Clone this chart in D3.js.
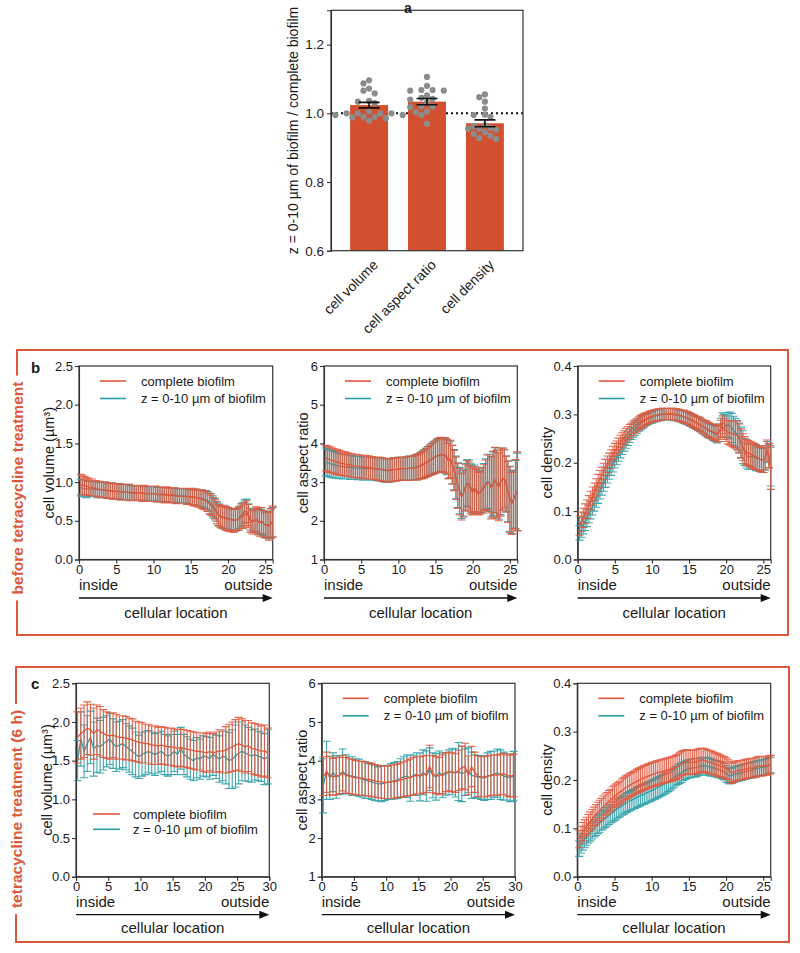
<!DOCTYPE html>
<html><head><meta charset="utf-8">
<script src="https://cdn.jsdelivr.net/npm/d3@7"></script>
<style>
body{margin:0;background:#fff}
svg{display:block}
text{font-family:"Liberation Sans",Arial,sans-serif;fill:#1a1a1a}
</style>
</head><body>
<svg id="chart" width="800" height="953"></svg>
<script>
// ---------------- DATA ----------------
// panel a
const barCategories = ["cell volume", "cell aspect ratio", "cell density"];
const barMeans = [1.024, 1.034, 0.971];
const barSem = [0.008, 0.009, 0.010];
const dotsVolume = [1.096,1.087,1.072,1.066,1.058,1.034,1.036,1.030,1.005,1.000,1.000,0.995,1.000,1.000,0.995,0.986,0.990,0.988,0.990,0.979];
const dotsAspect = [1.106,1.080,1.068,1.066,1.068,1.066,1.052,1.045,1.040,1.042,1.032,1.020,1.018,1.020,1.005,1.003,0.995,0.970];
const dotsDensity = [1.055,1.047,1.034,1.014,0.996,0.995,0.990,0.965,0.963,0.958,0.955,0.955,0.952,0.945,0.940,0.935,0.928,0.925];
const yTicksA = [0.6, 0.8, 1.0, 1.2];

// line panels: tick labels
const xTicks26 = [0,5,10,15,20,25];
const xTicks30 = [0,5,10,15,20,25,30];
const yTicksVol = [0,0.5,1.0,1.5,2.0,2.5];
const yTicksAr = [1,2,3,4,5,6];
const yTicksDen = [0,0.1,0.2,0.3,0.4];
const seriesNames = ["complete biofilm", "z = 0-10 µm of biofilm"];
const stepFine = 0.25, stepCoarse = 0.5;

// b: before tetracycline treatment (x = 0.25 ... 26)
const bVolR = [0.97,0.96,0.95,0.95, 0.94,0.93,0.93,0.92, 0.92,0.91,0.91,0.90, 0.90,0.90,0.89,0.89, 0.89,0.88,0.88,0.88, 0.88,0.87,0.87,0.87, 0.87,0.87,0.86,0.86, 0.86,0.86,0.86,0.86, 0.86,0.85,0.86,0.85, 0.85,0.85,0.85,0.85, 0.85,0.84,0.84,0.84, 0.84,0.83,0.84,0.83, 0.83,0.83,0.83,0.82, 0.82,0.82,0.82,0.82, 0.82,0.81,0.81,0.81, 0.81,0.80,0.80,0.79, 0.79,0.78,0.77,0.76, 0.74,0.72,0.70,0.67, 0.64,0.60,0.57,0.55, 0.54,0.55,0.53,0.52, 0.51,0.52,0.50,0.51, 0.52,0.53,0.55,0.56, 0.58,0.60,0.56,0.50, 0.48,0.50,0.52,0.49, 0.47,0.50,0.46,0.44, 0.45,0.43,0.47,0.49];
const bVolRe = [0.13,0.12,0.12,0.11, 0.11,0.11,0.11,0.10, 0.10,0.10,0.10,0.10, 0.10,0.10,0.10,0.10, 0.10,0.10,0.10,0.10, 0.10,0.10,0.10,0.10, 0.10,0.10,0.10,0.10, 0.10,0.10,0.10,0.10, 0.10,0.10,0.10,0.10, 0.10,0.10,0.10,0.10, 0.10,0.10,0.10,0.10, 0.10,0.10,0.10,0.10, 0.10,0.10,0.10,0.10, 0.10,0.10,0.10,0.10, 0.10,0.10,0.10,0.10, 0.11,0.11,0.11,0.11, 0.11,0.12,0.12,0.12, 0.12,0.13,0.13,0.13, 0.13,0.14,0.14,0.14, 0.14,0.15,0.15,0.15, 0.15,0.14,0.15,0.14, 0.14,0.15,0.15,0.16, 0.16,0.16,0.15,0.15, 0.15,0.15,0.16,0.17, 0.17,0.17,0.17,0.16, 0.17,0.18,0.19,0.20];
const bVolT = [0.93,0.92,0.92,0.91, 0.91,0.91,0.91,0.91, 0.91,0.90,0.90,0.90, 0.90,0.90,0.89,0.89, 0.89,0.89,0.88,0.88, 0.88,0.88,0.87,0.87, 0.87,0.87,0.87,0.86, 0.86,0.86,0.86,0.86, 0.86,0.86,0.85,0.85, 0.85,0.85,0.85,0.85, 0.85,0.84,0.84,0.84, 0.84,0.84,0.84,0.83, 0.83,0.83,0.83,0.83, 0.82,0.82,0.82,0.82, 0.82,0.82,0.81,0.81, 0.81,0.81,0.80,0.80, 0.79,0.79,0.78,0.77, 0.76,0.74,0.72,0.69, 0.66,0.62,0.58,0.56, 0.55,0.54,0.53,0.53, 0.52,0.52,0.51,0.51, 0.52,0.54,0.57,0.59, 0.62,0.63,0.58,0.52, 0.49,0.50,0.51,0.50, 0.48,0.49,0.47,0.45, 0.45,0.44,0.46,0.48];
const bVolTe = [0.11,0.11,0.11,0.11, 0.10,0.10,0.10,0.10, 0.10,0.10,0.10,0.10, 0.10,0.10,0.10,0.10, 0.10,0.10,0.10,0.10, 0.10,0.10,0.10,0.10, 0.10,0.10,0.10,0.09, 0.09,0.09,0.09,0.09, 0.09,0.09,0.09,0.09, 0.09,0.09,0.09,0.09, 0.09,0.09,0.09,0.09, 0.09,0.09,0.09,0.09, 0.09,0.09,0.09,0.09, 0.09,0.09,0.09,0.09, 0.09,0.09,0.09,0.10, 0.10,0.10,0.10,0.10, 0.11,0.11,0.11,0.12, 0.12,0.12,0.13,0.13, 0.13,0.13,0.14,0.14, 0.14,0.15,0.15,0.14, 0.14,0.14,0.14,0.14, 0.14,0.14,0.15,0.15, 0.15,0.15,0.14,0.14, 0.14,0.14,0.15,0.16, 0.16,0.16,0.16,0.16, 0.17,0.17,0.18,0.19];

const bArR = [3.62,3.60,3.58,3.57, 3.55,3.53,3.52,3.50, 3.49,3.48,3.47,3.46, 3.45,3.44,3.43,3.42, 3.42,3.41,3.40,3.40, 3.39,3.39,3.38,3.38, 3.37,3.37,3.36,3.35, 3.35,3.34,3.33,3.32, 3.31,3.30,3.30,3.31, 3.32,3.33,3.33,3.34, 3.34,3.35,3.35,3.35, 3.35,3.36,3.36,3.36, 3.37,3.38,3.40,3.42, 3.44,3.47,3.50,3.53, 3.56,3.59,3.62,3.65, 3.68,3.70,3.72,3.71, 3.70,3.66,3.55,3.60, 3.45,3.30,3.10,2.90, 2.75,2.62,2.70,2.85, 2.95,2.90,2.80,2.75, 2.80,2.75,2.70,2.72, 2.78,2.85,2.92,3.00, 2.95,2.85,2.95,3.05, 2.95,2.88,3.00,3.08, 3.10,2.95,2.75,2.55, 2.45,2.55,2.68,2.76];
const bArRe = [0.33,0.33,0.33,0.33, 0.32,0.32,0.32,0.32, 0.31,0.31,0.31,0.31, 0.30,0.30,0.30,0.30, 0.30,0.30,0.30,0.30, 0.30,0.30,0.30,0.30, 0.29,0.29,0.29,0.29, 0.30,0.30,0.30,0.30, 0.30,0.30,0.30,0.30, 0.30,0.30,0.30,0.30, 0.30,0.30,0.30,0.30, 0.31,0.31,0.31,0.31, 0.32,0.33,0.33,0.34, 0.35,0.36,0.37,0.38, 0.39,0.40,0.41,0.42, 0.43,0.44,0.44,0.44, 0.45,0.45,0.46,0.48, 0.50,0.52,0.55,0.58, 0.60,0.60,0.60,0.60, 0.60,0.62,0.62,0.60, 0.60,0.58,0.55,0.55, 0.58,0.60,0.65,0.70, 0.75,0.80,0.85,0.85, 0.88,0.88,0.88,0.80, 0.75,0.72,0.80,0.85, 0.80,0.75,0.90,1.02];
const bArT = [3.52,3.50,3.48,3.47, 3.45,3.44,3.43,3.42, 3.41,3.40,3.40,3.39, 3.39,3.38,3.38,3.37, 3.37,3.36,3.36,3.36, 3.35,3.35,3.35,3.35, 3.35,3.34,3.34,3.33, 3.33,3.33,3.32,3.31, 3.30,3.30,3.30,3.31, 3.32,3.33,3.33,3.34, 3.34,3.35,3.35,3.35, 3.35,3.36,3.36,3.37, 3.38,3.39,3.41,3.43, 3.45,3.48,3.51,3.54, 3.57,3.60,3.63,3.66, 3.68,3.70,3.71,3.70, 3.68,3.64,3.55,3.58, 3.45,3.32,3.12,2.92, 2.78,2.66,2.72,2.88, 2.98,2.95,2.85,2.80, 2.84,2.78,2.74,2.75, 2.80,2.88,2.95,3.02, 2.98,2.88,2.96,3.05, 2.96,2.90,3.02,3.08, 3.08,2.95,2.76,2.57, 2.47,2.56,2.68,2.75];
const bArTe = [0.36,0.36,0.35,0.35, 0.34,0.34,0.33,0.33, 0.32,0.32,0.32,0.31, 0.31,0.31,0.31,0.30, 0.30,0.30,0.30,0.30, 0.30,0.30,0.30,0.30, 0.29,0.29,0.29,0.29, 0.30,0.30,0.30,0.30, 0.30,0.30,0.30,0.30, 0.30,0.30,0.30,0.30, 0.30,0.30,0.30,0.30, 0.31,0.31,0.31,0.31, 0.32,0.33,0.33,0.34, 0.35,0.36,0.37,0.38, 0.39,0.40,0.41,0.42, 0.43,0.44,0.44,0.44, 0.45,0.45,0.46,0.48, 0.50,0.52,0.55,0.58, 0.60,0.60,0.60,0.60, 0.60,0.62,0.62,0.60, 0.60,0.58,0.55,0.55, 0.58,0.60,0.65,0.70, 0.74,0.78,0.82,0.84, 0.86,0.86,0.86,0.80, 0.75,0.72,0.78,0.84, 0.80,0.75,0.88,1.00];

const bDenR = [0.070,0.078,0.086,0.095, 0.104,0.113,0.122,0.131, 0.140,0.149,0.158,0.166, 0.174,0.182,0.190,0.197, 0.204,0.211,0.218,0.224, 0.230,0.236,0.242,0.247, 0.252,0.257,0.261,0.265, 0.269,0.273,0.276,0.279, 0.282,0.285,0.287,0.289, 0.291,0.293,0.295,0.296, 0.297,0.298,0.299,0.300, 0.300,0.301,0.301,0.301, 0.301,0.301,0.301,0.300, 0.300,0.299,0.298,0.297, 0.296,0.294,0.293,0.291, 0.289,0.287,0.285,0.283, 0.281,0.279,0.276,0.274, 0.272,0.269,0.267,0.265, 0.264,0.262,0.260,0.262, 0.268,0.275,0.270,0.266, 0.263,0.262,0.260,0.259, 0.258,0.256,0.250,0.240, 0.232,0.226,0.222,0.220, 0.218,0.216,0.214,0.212, 0.210,0.208,0.206,0.205, 0.210,0.225,0.215,0.190];
const bDenRe = [0.020,0.020,0.020,0.020, 0.019,0.019,0.019,0.019, 0.018,0.018,0.018,0.018, 0.017,0.017,0.017,0.017, 0.016,0.016,0.016,0.016, 0.015,0.015,0.015,0.015, 0.014,0.014,0.014,0.014, 0.013,0.013,0.013,0.013, 0.013,0.013,0.013,0.013, 0.012,0.012,0.012,0.012, 0.012,0.012,0.012,0.012, 0.012,0.012,0.012,0.012, 0.012,0.012,0.012,0.012, 0.012,0.012,0.012,0.012, 0.013,0.013,0.013,0.013, 0.013,0.013,0.013,0.013, 0.014,0.014,0.014,0.014, 0.015,0.015,0.015,0.015, 0.016,0.016,0.017,0.018, 0.020,0.022,0.022,0.022, 0.024,0.025,0.026,0.027, 0.028,0.030,0.030,0.030, 0.028,0.028,0.026,0.026, 0.026,0.026,0.026,0.026, 0.025,0.025,0.025,0.025, 0.025,0.022,0.025,0.045];
const bDenT = [0.055,0.062,0.070,0.078, 0.086,0.094,0.102,0.110, 0.118,0.126,0.134,0.142, 0.150,0.158,0.166,0.174, 0.182,0.190,0.197,0.204, 0.211,0.218,0.225,0.232, 0.238,0.244,0.250,0.256, 0.261,0.266,0.270,0.274, 0.278,0.281,0.284,0.287, 0.289,0.291,0.293,0.294, 0.296,0.297,0.298,0.299, 0.299,0.300,0.300,0.300, 0.300,0.300,0.300,0.299, 0.299,0.298,0.297,0.296, 0.295,0.293,0.292,0.290, 0.288,0.286,0.284,0.282, 0.280,0.278,0.275,0.273, 0.271,0.268,0.266,0.264, 0.262,0.260,0.258,0.262, 0.272,0.285,0.280,0.275, 0.278,0.277,0.272,0.266, 0.262,0.258,0.252,0.242, 0.232,0.222,0.215,0.212, 0.212,0.212,0.212,0.210, 0.208,0.207,0.206,0.205, 0.210,0.222,0.214,0.192];
const bDenTe = [0.015,0.016,0.017,0.018, 0.018,0.018,0.018,0.018, 0.018,0.018,0.018,0.017, 0.017,0.017,0.017,0.016, 0.016,0.016,0.016,0.015, 0.015,0.015,0.015,0.015, 0.014,0.014,0.014,0.014, 0.013,0.013,0.013,0.013, 0.013,0.013,0.013,0.013, 0.012,0.012,0.012,0.012, 0.012,0.012,0.012,0.012, 0.012,0.012,0.012,0.012, 0.012,0.012,0.012,0.012, 0.012,0.012,0.012,0.012, 0.013,0.013,0.013,0.013, 0.013,0.013,0.013,0.013, 0.014,0.014,0.014,0.014, 0.015,0.015,0.015,0.015, 0.016,0.016,0.017,0.018, 0.020,0.018,0.020,0.022, 0.026,0.028,0.030,0.030, 0.030,0.030,0.030,0.032, 0.034,0.028,0.026,0.026, 0.026,0.026,0.026,0.026, 0.025,0.025,0.025,0.025, 0.025,0.022,0.025,0.040];

// c: tetracycline treatment 6 h (volume & aspect: x = 0.25 ... 29.75; density: x = 0.25 ... 26)
const cVolR = [1.80,1.85,1.88,1.92,1.90,1.85,1.90,1.88, 1.85,1.83,1.82,1.83,1.81,1.80,1.80,1.79, 1.78,1.77,1.75,1.74,1.73,1.72,1.72,1.70, 1.70,1.69,1.70,1.69,1.68,1.68,1.67,1.66, 1.67,1.66,1.65,1.64,1.63,1.62,1.62,1.61, 1.60,1.62,1.60,1.61,1.63,1.62,1.64,1.66, 1.68,1.70,1.72,1.70,1.68,1.69,1.66,1.65, 1.64,1.62,1.63,1.60];
const cVolRe = [0.33,0.33,0.34,0.34,0.33,0.33,0.32,0.32, 0.31,0.30,0.30,0.29,0.29,0.28,0.28,0.28, 0.27,0.27,0.26,0.26,0.26,0.25,0.25,0.25, 0.25,0.24,0.24,0.24,0.24,0.24,0.24,0.24, 0.24,0.24,0.24,0.24,0.24,0.24,0.24,0.25, 0.25,0.25,0.25,0.26,0.27,0.28,0.30,0.31, 0.32,0.33,0.34,0.34,0.34,0.33,0.33,0.33, 0.33,0.33,0.33,0.32];
const cVolT = [1.50,1.78,1.62,1.72,1.80,1.65,1.70,1.68, 1.72,1.75,1.78,1.72,1.68,1.70,1.72,1.68, 1.65,1.62,1.58,1.55,1.58,1.60,1.62,1.60, 1.58,1.60,1.62,1.58,1.56,1.58,1.62,1.58, 1.66,1.58,1.55,1.52,1.50,1.54,1.52,1.56, 1.55,1.53,1.58,1.55,1.52,1.56,1.54,1.50, 1.52,1.56,1.60,1.62,1.60,1.58,1.56,1.58, 1.56,1.55,1.52,1.55];
const cVolTe = [0.26,0.35,0.34,0.36,0.34,0.35,0.35,0.34, 0.34,0.33,0.33,0.32,0.32,0.31,0.31,0.30, 0.30,0.30,0.29,0.28,0.28,0.28,0.27,0.27, 0.27,0.26,0.26,0.26,0.26,0.26,0.26,0.26, 0.27,0.26,0.26,0.26,0.26,0.26,0.26,0.26, 0.26,0.27,0.27,0.28,0.30,0.32,0.34,0.36, 0.38,0.40,0.40,0.38,0.36,0.35,0.34,0.33, 0.32,0.32,0.33,0.35];

const cArR = [3.60,3.70,3.62,3.58,3.60,3.62,3.68,3.62, 3.60,3.58,3.56,3.55,3.55,3.53,3.52,3.50, 3.48,3.46,3.45,3.44,3.44,3.45,3.46,3.48, 3.50,3.52,3.55,3.57,3.60,3.62,3.62,3.64, 3.66,3.85,3.65,3.62,3.60,3.65,3.70,3.72, 3.70,3.68,3.75,3.82,3.85,3.62,3.85,3.70, 3.60,3.58,3.58,3.60,3.62,3.63,3.62,3.65, 3.66,3.62,3.60,3.62];
const cArRe = [0.50,0.52,0.50,0.48,0.48,0.47,0.46,0.46, 0.45,0.45,0.44,0.44,0.44,0.43,0.43,0.43, 0.42,0.42,0.42,0.42,0.42,0.43,0.43,0.43, 0.44,0.45,0.46,0.47,0.48,0.48,0.48,0.48, 0.48,0.55,0.48,0.48,0.48,0.50,0.50,0.50, 0.50,0.50,0.52,0.55,0.60,0.50,0.52,0.52, 0.52,0.52,0.52,0.52,0.52,0.52,0.52,0.52, 0.53,0.53,0.54,0.55];
const cArT = [3.35,3.75,3.55,3.70,3.58,3.62,3.72,3.65, 3.62,3.60,3.58,3.56,3.52,3.50,3.48,3.45, 3.42,3.40,3.40,3.42,3.44,3.46,3.48,3.50, 3.55,3.58,3.60,3.55,3.62,3.65,3.58,3.70, 3.60,3.78,3.62,3.58,3.70,3.62,3.66,3.70, 3.72,3.68,3.72,3.66,3.70,3.75,3.62,3.60, 3.58,3.56,3.55,3.60,3.62,3.65,3.68,3.64, 3.60,3.58,3.56,3.60];
const cArTe = [0.70,0.75,0.55,0.50,0.55,0.50,0.58,0.50, 0.48,0.50,0.47,0.48,0.46,0.48,0.45,0.45, 0.45,0.44,0.46,0.45,0.44,0.46,0.47,0.48, 0.50,0.52,0.55,0.60,0.52,0.55,0.62,0.58, 0.65,0.55,0.58,0.60,0.55,0.58,0.55,0.58, 0.60,0.62,0.75,0.72,0.60,0.58,0.60,0.55, 0.55,0.56,0.58,0.60,0.62,0.60,0.62,0.64, 0.62,0.60,0.62,0.64];

const cDenR = [0.078,0.086,0.093,0.099, 0.104,0.109,0.114,0.119, 0.124,0.128,0.133,0.137, 0.141,0.145,0.149,0.152, 0.156,0.159,0.163,0.166, 0.169,0.172,0.175,0.178, 0.181,0.184,0.186,0.189, 0.191,0.193,0.195,0.197, 0.199,0.201,0.203,0.205, 0.206,0.208,0.209,0.211, 0.212,0.213,0.215,0.216, 0.217,0.218,0.219,0.220, 0.221,0.222,0.223,0.224, 0.226,0.228,0.231,0.234, 0.236,0.237,0.238,0.237, 0.236,0.236,0.237,0.238, 0.239,0.240,0.242,0.241, 0.240,0.238,0.237,0.236, 0.235,0.233,0.232,0.230, 0.229,0.227,0.226,0.224, 0.222,0.218,0.214,0.216, 0.218,0.219,0.220,0.220, 0.221,0.222,0.223,0.224, 0.225,0.224,0.225,0.226, 0.228,0.229,0.228,0.229, 0.230,0.229,0.231,0.232];
const cDenRe = [0.018,0.018,0.019,0.019, 0.019,0.020,0.020,0.020, 0.020,0.021,0.021,0.021, 0.021,0.022,0.022,0.022, 0.022,0.022,0.023,0.023, 0.023,0.023,0.023,0.024, 0.024,0.024,0.024,0.024, 0.024,0.024,0.024,0.025, 0.025,0.025,0.025,0.025, 0.025,0.025,0.025,0.025, 0.025,0.025,0.025,0.025, 0.025,0.025,0.025,0.025, 0.025,0.025,0.025,0.025, 0.025,0.025,0.025,0.025, 0.025,0.025,0.025,0.025, 0.025,0.025,0.025,0.025, 0.025,0.025,0.024,0.024, 0.024,0.024,0.024,0.024, 0.023,0.023,0.023,0.023, 0.022,0.022,0.022,0.022, 0.021,0.021,0.021,0.020, 0.020,0.020,0.020,0.020, 0.020,0.020,0.020,0.020, 0.020,0.020,0.020,0.020, 0.020,0.020,0.020,0.020, 0.019,0.019,0.019,0.019];
const cDenT = [0.058,0.066,0.072,0.078, 0.083,0.088,0.092,0.096, 0.100,0.104,0.108,0.111, 0.115,0.118,0.121,0.124, 0.127,0.130,0.133,0.136, 0.139,0.142,0.144,0.147, 0.149,0.152,0.154,0.156, 0.158,0.160,0.162,0.164, 0.166,0.168,0.170,0.171, 0.173,0.175,0.176,0.178, 0.180,0.182,0.184,0.186, 0.188,0.190,0.192,0.194, 0.196,0.199,0.202,0.205, 0.208,0.211,0.213,0.215, 0.218,0.220,0.222,0.223, 0.224,0.225,0.225,0.226, 0.227,0.228,0.229,0.229, 0.229,0.228,0.227,0.226, 0.225,0.224,0.223,0.222, 0.221,0.219,0.217,0.213, 0.210,0.208,0.209,0.211, 0.212,0.213,0.214,0.215, 0.216,0.217,0.218,0.219, 0.220,0.221,0.222,0.223, 0.224,0.225,0.226,0.226, 0.227,0.228,0.230,0.231];
const cDenTe = [0.016,0.017,0.017,0.018, 0.018,0.018,0.018,0.018, 0.018,0.019,0.019,0.019, 0.019,0.019,0.019,0.019, 0.019,0.019,0.020,0.020, 0.020,0.020,0.020,0.020, 0.020,0.020,0.020,0.020, 0.020,0.020,0.021,0.021, 0.021,0.021,0.021,0.021, 0.021,0.021,0.021,0.021, 0.021,0.021,0.021,0.021, 0.021,0.021,0.021,0.021, 0.020,0.020,0.020,0.020, 0.020,0.020,0.020,0.020, 0.019,0.019,0.019,0.019, 0.019,0.019,0.019,0.019, 0.018,0.018,0.018,0.018, 0.018,0.018,0.018,0.018, 0.017,0.017,0.017,0.017, 0.017,0.017,0.017,0.017, 0.016,0.016,0.016,0.016, 0.016,0.016,0.016,0.016, 0.016,0.016,0.016,0.016, 0.016,0.016,0.016,0.016, 0.016,0.016,0.016,0.016, 0.016,0.016,0.016,0.016];

// ---------------- STYLE ----------------
const RED = "#e2553b", TEAL = "#2a9ea6", BAR = "#d24f2f", FRAME = "#dc583c", DOT = "#8c8c8c", AX = "#333";
const FONT = '"Liberation Sans", Arial, sans-serif';
const svg = d3.select("#chart");

function styleAxis(g, fs) {
  g.attr("font-size", fs).attr("font-family", FONT);
  g.selectAll("path,line").attr("stroke", AX).attr("stroke-width", 1.1);
  g.selectAll("text").attr("fill", "#1a1a1a");
}

// ---------------- PANEL A ----------------
(function () {
  const L = 331, R = 523, T = 10.3, B = 250.7;
  const x = d3.scaleBand().domain(barCategories).range([L, R]).paddingInner(0.345).paddingOuter(0.33);
  const y = d3.scaleLinear().domain([0.6, 1.3]).range([B, T]);
  const g = svg.append("g");
  g.append("line").attr("x1", L).attr("x2", R).attr("y1", y(1.0)).attr("y2", y(1.0))
    .attr("stroke", "#111").attr("stroke-width", 2).attr("stroke-dasharray", "2,3");
  g.selectAll("rect.bar").data(barCategories).enter().append("rect")
    .attr("x", d => x(d)).attr("width", x.bandwidth())
    .attr("y", (d, i) => y(barMeans[i])).attr("height", (d, i) => y(0.6) - y(barMeans[i]))
    .attr("fill", BAR);
  const dotSets = [dotsVolume, dotsAspect, dotsDensity];
  const r = 3.1, dstep = 5.6;
  dotSets.forEach((vals, ci) => {
    const cx = x(barCategories[ci]) + x.bandwidth() / 2;
    const placed = [];
    vals.map(v => ({ v, py: y(v) })).sort((a, b) => a.py - b.py).forEach(p => {
      for (let k = 0; k < 15; k++) {
        const off = (k % 2 ? -1 : 1) * Math.ceil(k / 2) * dstep;
        const px = cx + off;
        const hit = placed.some(q => (q.px - px) ** 2 + (q.py - p.py) ** 2 < (2 * r) ** 2 * 0.9);
        if (!hit) { placed.push({ px, py: p.py }); break; }
      }
    });
    g.selectAll(null).data(placed).enter().append("circle")
      .attr("cx", d => d.px).attr("cy", d => d.py).attr("r", r).attr("fill", DOT);
  });
  barCategories.forEach((c, i) => {
    const cx = x(c) + x.bandwidth() / 2, hw = 10.5;
    const y1 = y(barMeans[i] + barSem[i]), y0 = y(barMeans[i] - barSem[i]);
    g.append("path").attr("d", `M${cx},${y0}V${y1}M${cx - hw},${y1}H${cx + hw}M${cx - hw},${y0}H${cx + hw}`)
      .attr("stroke", "#111").attr("stroke-width", 1.6).attr("fill", "none");
  });
  const ya = g.append("g").attr("transform", `translate(${L},0)`)
    .call(d3.axisLeft(y).tickValues(yTicksA).tickFormat(d3.format(".1f")).tickSize(4).tickPadding(3));
  styleAxis(ya, 13.5);
  g.append("rect").attr("x", L).attr("y", T).attr("width", R - L).attr("height", B - T)
    .attr("fill", "none").attr("stroke", AX).attr("stroke-width", 1.2);
  barCategories.forEach(c => {
    const cx = x(c) + x.bandwidth() / 2;
    g.append("text").attr("transform", `translate(${cx + 3},${B + 8}) rotate(-45)`)
      .attr("text-anchor", "end").attr("dy", "0.71em").attr("font-size", 14).text(c);
  });
  g.append("text").attr("transform", `translate(${L - 38},${(T + B) / 2}) rotate(-90)`)
    .attr("text-anchor", "middle").attr("dy", "0.35em").attr("font-size", 14)
    .text("z = 0-10 µm of biofilm / complete biofilm");
  g.append("text").attr("x", 408).attr("y", 13).attr("text-anchor", "middle")
    .attr("font-size", 14).attr("font-weight", "bold").text("a");
})();

// ---------------- SECTION FRAMES ----------------
function sectionFrame(x0, y0, x1, y1, label, cy, tx, ty, letter) {
  svg.append("rect").attr("x", x0).attr("y", y0).attr("width", x1 - x0).attr("height", y1 - y0)
    .attr("fill", "none").attr("stroke", FRAME).attr("stroke-width", 2);
  const t = svg.append("text").attr("transform", `translate(${x0 + 0.5},${cy}) rotate(-90)`)
    .attr("text-anchor", "middle").attr("dy", "0.35em").attr("font-size", 15.5)
    .attr("font-weight", "bold").style("fill", FRAME).text(label);
  const len = t.node().getComputedTextLength();
  svg.insert("rect", () => t.node()).attr("x", x0 - 8).attr("width", 16)
    .attr("y", cy - len / 2 - 6).attr("height", len + 12).attr("fill", "#fff");
  svg.append("text").attr("x", tx).attr("y", ty).attr("font-size", 15).attr("font-weight", "bold").text(letter);
}
sectionFrame(17, 350, 788, 635, "before tetracycline treatment", 488, 31, 373, "b");
sectionFrame(16, 667, 789, 942, "tetracycline treatment (6 h)", 809, 31, 689, "c");

// ---------------- LINE PANELS ----------------
function linePlot(o) {
  const g = svg.append("g");
  const x = d3.scaleLinear().domain(o.xDomain).range([o.l, o.r]);
  const y = d3.scaleLinear().domain(o.yDomain).range([o.b, o.t]);
  const xa = g.append("g").attr("transform", `translate(0,${o.b})`)
    .call(d3.axisBottom(x).tickValues(o.xTicks).tickSize(4).tickPadding(1));
  styleAxis(xa, 13);
  const ya = g.append("g").attr("transform", `translate(${o.l},0)`)
    .call(d3.axisLeft(y).tickValues(o.yTicks).tickFormat(o.fmt).tickSize(4).tickPadding(2));
  styleAxis(ya, 13);
  g.append("rect").attr("x", o.l).attr("y", o.t).attr("width", o.r - o.l).attr("height", o.b - o.t)
    .attr("fill", "none").attr("stroke", AX).attr("stroke-width", 1.2);

  const cw = 4;
  o.series.forEach(s => {
    const n = Math.min(s.m.length, s.e.length);
    const pts = d3.range(n).map(i => ({ xv: s.x0 + i * s.step, m: s.m[i], e: s.e[i] }));
    const d = pts.map(p => {
      const px = x(p.xv), yt = y(p.m + p.e), yb = y(p.m - p.e);
      return `M${px},${yb}V${yt}M${px - cw},${yt}H${px + cw}M${px - cw},${yb}H${px + cw}`;
    }).join("");
    g.append("path").attr("d", d).attr("stroke", s.color).attr("stroke-width", 1.1)
      .attr("fill", "none").attr("stroke-opacity", 0.9);
    g.append("path").datum(pts).attr("d", d3.line().x(p => x(p.xv)).y(p => y(p.m)))
      .attr("stroke", s.color).attr("stroke-width", 1.3).attr("fill", "none");
  });

  const lg = o.legend;
  [[RED, seriesNames[0], lg.y1], [TEAL, seriesNames[1], lg.y2]].forEach(([c, name, yy]) => {
    g.append("line").attr("x1", o.l + lg.x1).attr("x2", o.l + lg.x2)
      .attr("y1", o.t + yy).attr("y2", o.t + yy).attr("stroke", c).attr("stroke-width", 1.6);
    g.append("text").attr("x", o.l + lg.tx).attr("y", o.t + yy).attr("dy", "0.35em")
      .attr("font-size", 13).text(name);
  });

  g.append("text").attr("transform", `translate(${o.l - o.labOff},${(o.t + o.b) / 2}) rotate(-90)`)
    .attr("text-anchor", "middle").attr("dy", "0.35em").attr("font-size", 14.5).text(o.ylabel);

  g.append("text").attr("x", o.l).attr("y", o.b + o.inDy).attr("font-size", 15).text("inside");
  g.append("text").attr("x", o.r).attr("y", o.b + o.inDy).attr("text-anchor", "end").attr("font-size", 15).text("outside");
  const ay = o.b + o.arDy;
  g.append("line").attr("x1", o.l).attr("x2", o.r - 6).attr("y1", ay).attr("y2", ay)
    .attr("stroke", "#111").attr("stroke-width", 1.3);
  g.append("path").attr("d", `M${o.r},${ay}L${o.r - 10},${ay - 4}L${o.r - 10},${ay + 4}Z`).attr("fill", "#111");
  g.append("text").attr("x", (o.l + o.r) / 2).attr("y", o.b + o.clDy).attr("text-anchor", "middle")
    .attr("font-size", 15).text("cellular location");
}

const f1 = d3.format(".1f"), f0 = d3.format("d");
const legTop = { x1: 21, x2: 47, tx: 62, y1: 15, y2: 32.5 };
const bRow = { t: 366, b: 559.5, inDy: 30, arDy: 38.5, clDy: 58 };
const cRow = { t: 683.3, b: 876.7, inDy: 30, arDy: 38, clDy: 56.5 };

linePlot(Object.assign({}, bRow, { l: 79, r: 272.7, xDomain: [0, 26], yDomain: [0, 2.5], xTicks: xTicks26, yTicks: yTicksVol, fmt: f1,
  ylabel: "cell volume (µm³)", labOff: 30, legend: legTop,
  series: [{ m: bVolT, e: bVolTe, color: TEAL, x0: stepFine, step: stepFine }, { m: bVolR, e: bVolRe, color: RED, x0: stepFine, step: stepFine }] }));
linePlot(Object.assign({}, bRow, { l: 324, r: 517.3, xDomain: [0, 26], yDomain: [1, 6], xTicks: xTicks26, yTicks: yTicksAr, fmt: f0,
  ylabel: "cell aspect ratio", labOff: 21, legend: legTop,
  series: [{ m: bArT, e: bArTe, color: TEAL, x0: stepFine, step: stepFine }, { m: bArR, e: bArRe, color: RED, x0: stepFine, step: stepFine }] }));
linePlot(Object.assign({}, bRow, { l: 577.7, r: 770.7, xDomain: [0, 26], yDomain: [0, 0.4], xTicks: xTicks26, yTicks: yTicksDen, fmt: f1,
  ylabel: "cell density", labOff: 31, legend: legTop,
  series: [{ m: bDenT, e: bDenTe, color: TEAL, x0: stepFine, step: stepFine }, { m: bDenR, e: bDenRe, color: RED, x0: stepFine, step: stepFine }] }));

linePlot(Object.assign({}, cRow, { l: 76, r: 269.3, xDomain: [0, 30], yDomain: [0, 2.5], xTicks: xTicks30, yTicks: yTicksVol, fmt: f1,
  ylabel: "cell volume (µm³)", labOff: 29, legend: { x1: 17, x2: 44, tx: 57, y1: 130.7, y2: 146 },
  series: [{ m: cVolT, e: cVolTe, color: TEAL, x0: stepCoarse / 2, step: stepCoarse }, { m: cVolR, e: cVolRe, color: RED, x0: stepCoarse / 2, step: stepCoarse }] }));
linePlot(Object.assign({}, cRow, { l: 321.7, r: 515, xDomain: [0, 30], yDomain: [1, 6], xTicks: xTicks30, yTicks: yTicksAr, fmt: f0,
  ylabel: "cell aspect ratio", labOff: 20, legend: legTop,
  series: [{ m: cArT, e: cArTe, color: TEAL, x0: stepCoarse / 2, step: stepCoarse }, { m: cArR, e: cArRe, color: RED, x0: stepCoarse / 2, step: stepCoarse }] }));
linePlot(Object.assign({}, cRow, { l: 577.3, r: 770.7, xDomain: [0, 26], yDomain: [0, 0.4], xTicks: xTicks26, yTicks: yTicksDen, fmt: f1,
  ylabel: "cell density", labOff: 30, legend: legTop,
  series: [{ m: cDenT, e: cDenTe, color: TEAL, x0: stepFine, step: stepFine }, { m: cDenR, e: cDenRe, color: RED, x0: stepFine, step: stepFine }] }));
</script>
</body></html>
